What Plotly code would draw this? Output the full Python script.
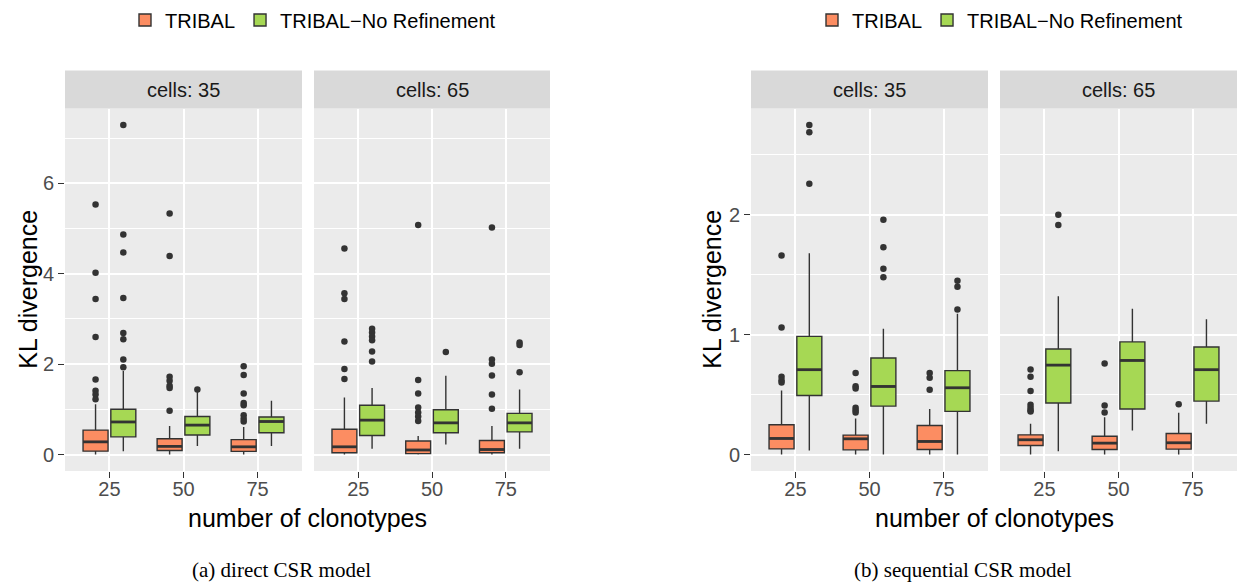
import numpy as np
import plotly.graph_objects as go

# ---------------- data ----------------
clonotypes = ["25", "50", "75"]
methods = ["TRIBAL", "TRIBAL\u2212No Refinement"]
cells_labels = ["cells: 35", "cells: 65"]

# (a) direct CSR model
direct_c35_tribal = dict(lo=[0, 0, 0], q1=[0.074, 0.09, 0.07], med=[0.28, 0.18, 0.17],
                         q3=[0.54, 0.35, 0.33], hi=[1.11, 0.63, 0.61])
direct_c35_tribal_out = [[5.53, 4.02, 3.44, 2.60, 1.66, 1.41, 1.33, 1.22],
                         [5.33, 4.39, 1.72, 1.63, 1.52, 1.47, 0.97],
                         [1.95, 1.76, 1.35, 1.14, 1.09, 0.87, 0.79, 0.73]]
direct_c35_noref = dict(lo=[0.07, 0.19, 0.19], q1=[0.39, 0.43, 0.48], med=[0.72, 0.65, 0.73],
                        q3=[1.00, 0.84, 0.83], hi=[1.85, 1.40, 1.19])
direct_c35_noref_out = [[7.29, 4.87, 4.47, 3.46, 2.69, 2.55, 2.10, 1.93],
                        [1.44],
                        []]
direct_c65_tribal = dict(lo=[0, 0, 0], q1=[0.04, 0.02, 0.04], med=[0.17, 0.10, 0.11],
                         q3=[0.56, 0.30, 0.31], hi=[1.26, 0.41, 0.63])
direct_c65_tribal_out = [[4.56, 3.57, 3.44, 2.50, 1.89, 1.67],
                         [5.08, 1.65, 1.35, 1.04, 0.93, 0.84, 0.74],
                         [5.02, 2.10, 2.01, 1.75, 1.33, 1.01]]
direct_c65_noref = dict(lo=[0.13, 0.22, 0.13], q1=[0.42, 0.48, 0.50], med=[0.76, 0.70, 0.70],
                        q3=[1.09, 0.99, 0.91], hi=[1.47, 1.74, 1.44])
direct_c65_noref_out = [[2.78, 2.70, 2.61, 2.53, 2.28, 2.06],
                        [2.27],
                        [2.48, 2.42, 1.82]]

# (b) sequential CSR model
seq_c35_tribal = dict(lo=[0, 0, 0], q1=[0.047, 0.039, 0.042], med=[0.134, 0.131, 0.109],
                      q3=[0.248, 0.162, 0.242], hi=[0.535, 0.30, 0.38])
seq_c35_tribal_out = [[1.66, 1.06, 0.65, 0.62, 0.60],
                      [0.68, 0.57, 0.55, 0.39, 0.37, 0.35],
                      [0.68, 0.64, 0.54]]
seq_c35_noref = dict(lo=[0.033, 0, 0], q1=[0.493, 0.404, 0.36], med=[0.708, 0.568, 0.557],
                     q3=[0.986, 0.805, 0.70], hi=[1.68, 1.05, 1.175])
seq_c35_noref_out = [[2.75, 2.69, 2.26],
                     [1.96, 1.73, 1.55, 1.48],
                     [1.45, 1.40, 1.21]]
seq_c65_tribal = dict(lo=[0, 0, 0], q1=[0.075, 0.042, 0.045], med=[0.123, 0.095, 0.098],
                      q3=[0.164, 0.153, 0.175], hi=[0.256, 0.31, 0.348])
seq_c65_tribal_out = [[0.71, 0.65, 0.53, 0.415, 0.39, 0.37, 0.36],
                      [0.76, 0.41, 0.35],
                      [0.42]]
seq_c65_noref = dict(lo=[0.028, 0.2, 0.256], q1=[0.43, 0.38, 0.446], med=[0.746, 0.785, 0.708],
                     q3=[0.88, 0.94, 0.897], hi=[1.32, 1.217, 1.128])
seq_c65_noref_out = [[2.0, 1.916], [], []]

panels = [
    # (axis suffix, legend, [(stats, outliers), ...])
    ("", "legend", [(direct_c35_tribal, direct_c35_tribal_out), (direct_c35_noref, direct_c35_noref_out)]),
    ("2", None, [(direct_c65_tribal, direct_c65_tribal_out), (direct_c65_noref, direct_c65_noref_out)]),
    ("3", "legend2", [(seq_c35_tribal, seq_c35_tribal_out), (seq_c35_noref, seq_c35_noref_out)]),
    ("4", None, [(seq_c65_tribal, seq_c65_tribal_out), (seq_c65_noref, seq_c65_noref_out)]),
]

# ---------------- style ----------------
W, H = 1238, 585
fills = ["#FC8D62", "#A6D854"]
edge = "#333333"
dodge = 0.1875
box_w = 0.3375
FONT = "Liberation Sans, Arial, sans-serif"

fig = go.Figure()
base = np.arange(1, len(clonotypes) + 1)

for suffix, leg, groups in panels:
    xa, ya = "x" + suffix, "y" + suffix
    for k, (st, outs) in enumerate(groups):
        pos = base + (-dodge if k == 0 else dodge)
        fig.add_trace(go.Box(
            x=pos, q1=st["q1"], median=st["med"], q3=st["q3"],
            lowerfence=st["lo"], upperfence=st["hi"],
            width=box_w, whiskerwidth=0, boxpoints=False,
            fillcolor=fills[k], line=dict(color=edge, width=1.4),
            name=methods[k], showlegend=leg is not None,
            legend=leg if leg else "legend",
            xaxis=xa, yaxis=ya, hoverinfo="skip",
        ))
        # thicker median bars (ggplot fatten)
        mx, my = [], []
        for p, m in zip(pos, st["med"]):
            mx += [p - box_w / 2, p + box_w / 2, None]
            my += [m, m, None]
        fig.add_trace(go.Scatter(x=mx, y=my, mode="lines", line=dict(color=edge, width=2.8),
                                 showlegend=False, xaxis=xa, yaxis=ya, hoverinfo="skip"))
        # outliers
        ox, oy = [], []
        for p, o in zip(pos, outs):
            ox += [p] * len(o)
            oy += list(o)
        fig.add_trace(go.Scatter(x=ox, y=oy, mode="markers",
                                 marker=dict(color=edge, size=6.5, line=dict(width=0)),
                                 showlegend=False, xaxis=xa, yaxis=ya, hoverinfo="skip"))

# panel geometry in pixels
px_x = {"": (65, 302), "2": (314, 550), "3": (751, 988), "4": (1000, 1237)}
panel_top, panel_bot = 108.5, 471
strip_top = 70.5
ydom = [1 - panel_bot / H, 1 - panel_top / H]

xaxis_common = dict(range=[0.4, 3.6], tickvals=list(base), ticktext=clonotypes,
                    showgrid=True, gridcolor="white", gridwidth=2.4, zeroline=False,
                    showline=False, ticks="outside", ticklen=6, tickwidth=1.4,
                    tickcolor=edge, tickfont=dict(family=FONT, size=20, color="#4D4D4D"),
                    ticklabelstandoff=-6,
                    automargin=False, fixedrange=True)

layout = dict(width=W, height=H, margin=dict(l=0, r=0, t=0, b=0), autosize=False,
              paper_bgcolor="white", plot_bgcolor="#EBEBEB",
              font=dict(family=FONT, color="black"), template="none")

yranges = {"": [-0.365, 7.655], "3": [-0.1375, 2.8875]}
ydticks = {"": 2, "3": 1}

for suffix in ["", "2", "3", "4"]:
    x0, x1 = px_x[suffix]
    xa = dict(xaxis_common, domain=[x0 / W, x1 / W], anchor="y" + suffix)
    layout["xaxis" + suffix] = xa
    main = "" if suffix in ("", "2") else "3"
    dt = ydticks[main]
    ya = dict(range=yranges[main], domain=ydom, anchor="x" + suffix,
              tick0=0, dtick=dt, showgrid=True, gridcolor="white", gridwidth=2.4,
              minor=dict(dtick=dt / 2, tick0=0, showgrid=True, gridcolor="white", gridwidth=1.1, ticks=""),
              zeroline=False, showline=False, automargin=False, fixedrange=True,
              tickfont=dict(family=FONT, size=20, color="#4D4D4D"))
    if suffix in ("", "3"):
        ya.update(ticks="outside", ticklen=6, tickwidth=1.4, tickcolor=edge, showticklabels=True)
    else:
        ya.update(ticks="", showticklabels=False, matches="y" if suffix == "2" else "y3")
    layout["yaxis" + suffix] = ya

shapes, annotations = [], []
for suffix, lab in zip(["", "2", "3", "4"], cells_labels * 2):
    x0, x1 = px_x[suffix]
    shapes.append(dict(type="rect", xref="paper", yref="paper", x0=x0 / W, x1=x1 / W,
                       y0=1 - panel_top / H, y1=1 - strip_top / H,
                       fillcolor="#D9D9D9", line=dict(width=0), layer="below"))
    annotations.append(dict(text=lab, xref="paper", yref="paper", x=(x0 + x1) / 2 / W,
                            y=1 - (strip_top + panel_top) / 2 / H, xanchor="center", yanchor="middle",
                            showarrow=False, font=dict(family=FONT, size=20, color="#1A1A1A")))

# axis titles
for cx, cy_ytitle in [((65 + 550) / 2, 28), ((751 + 1237) / 2, 712)]:
    annotations.append(dict(text="number of clonotypes", xref="paper", yref="paper",
                            x=cx / W, y=1 - 518 / H, xanchor="center", yanchor="middle",
                            showarrow=False, font=dict(family=FONT, size=25, color="black")))
    annotations.append(dict(text="KL divergence", xref="paper", yref="paper", textangle=-90,
                            x=cy_ytitle / W, y=1 - (panel_top + panel_bot) / 2 / H,
                            xanchor="center", yanchor="middle",
                            showarrow=False, font=dict(family=FONT, size=25, color="black")))

# captions
for txt, cx in [("(a) direct CSR model", 281), ("(b) sequential CSR model", 963)]:
    annotations.append(dict(text=txt, xref="paper", yref="paper", x=cx / W, y=1 - 570 / H,
                            xanchor="center", yanchor="middle", showarrow=False,
                            font=dict(family="Liberation Serif, Times New Roman, serif", size=21, color="black")))

legend_common = dict(orientation="h", xanchor="center", yanchor="middle", y=1 - 20 / H,
                     font=dict(family=FONT, size=20, color="black"), bgcolor="rgba(0,0,0,0)",
                     traceorder="normal", itemclick=False, itemdoubleclick=False)
layout["legend"] = dict(legend_common, x=313 / W)
layout["legend2"] = dict(legend_common, x=1000 / W)
layout["shapes"] = shapes
layout["annotations"] = annotations
layout["boxmode"] = "overlay"
layout["showlegend"] = True

fig.update_layout(**layout)
fig.write_html("out.html")
